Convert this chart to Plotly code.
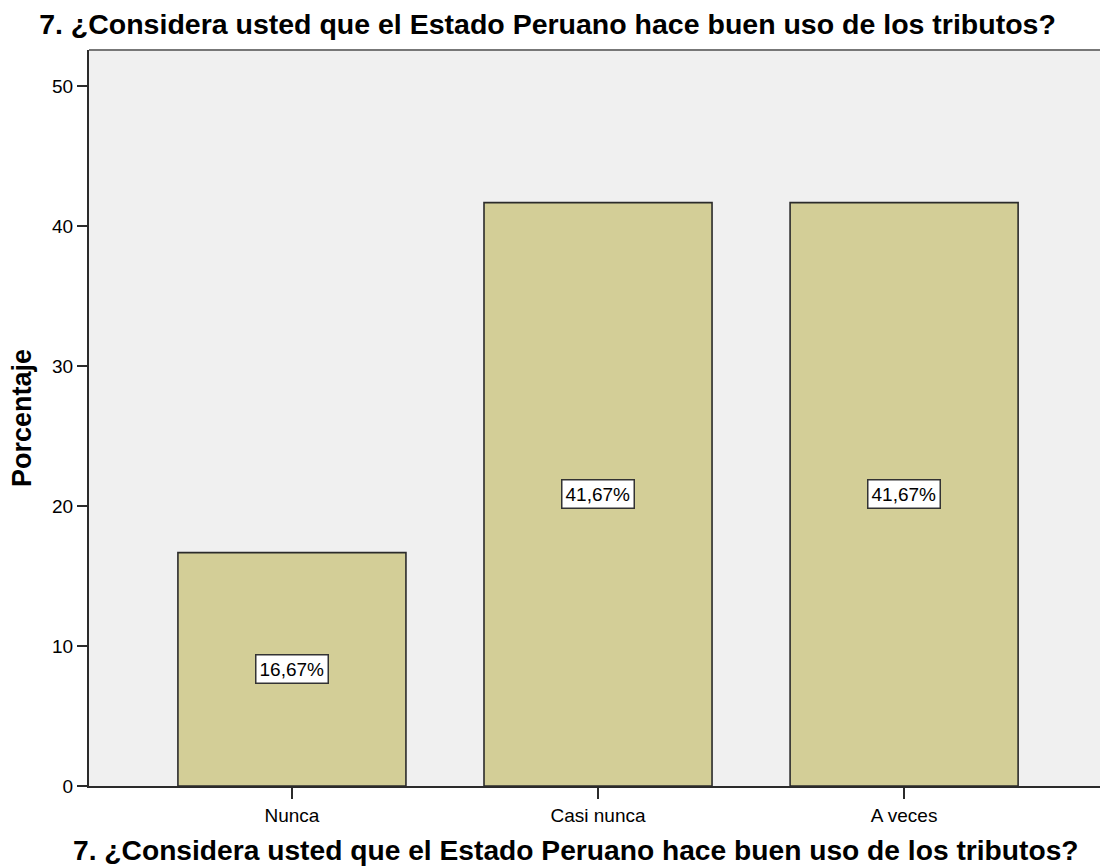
import plotly.graph_objects as go

categories = ["Nunca", "Casi nunca", "A veces"]
percentages = [16.67, 41.67, 41.67]
bar_labels = ["16,67%", "41,67%", "41,67%"]
y_ticks = [0, 10, 20, 30, 40, 50]

title_text = "7. ¿Considera usted que el Estado Peruano hace buen uso de los tributos?"
x = list(range(len(categories)))
FONT = "Arial, Liberation Sans, Helvetica, sans-serif"

fig = go.Figure()
fig.add_trace(go.Bar(
    x=x, y=percentages, width=0.745,
    marker=dict(color="#D3CE97", line=dict(color="#2b2b2b", width=1.6)),
    hoverinfo="skip",
))

for xi, v, lab in zip(x, percentages, bar_labels):
    fig.add_annotation(
        x=xi, y=v / 2, text=lab, showarrow=False,
        font=dict(family=FONT, size=19, color="black"),
        bgcolor="white", bordercolor="#333333", borderwidth=1.5, borderpad=3,
    )

# x-axis title (centred slightly left of plot centre, as in reference)
fig.add_annotation(
    xref="paper", yref="paper", x=0.4817, y=-0.0875,
    xanchor="center", yanchor="middle", showarrow=False,
    text="<b>" + title_text + "</b>",
    font=dict(family=FONT, size=28.2, color="black"),
)
# y-axis title
fig.add_annotation(
    xref="paper", yref="paper", x=-0.0663, y=0.5,
    xanchor="center", yanchor="middle", showarrow=False, textangle=-90,
    text="<b>Porcentaje</b>",
    font=dict(family=FONT, size=27, color="black"),
)

fig.update_layout(
    width=1100, height=868,
    margin=dict(l=89, r=0, t=50, b=82),
    paper_bgcolor="white", plot_bgcolor="#F0F0F0",
    showlegend=False,
    title=dict(text="<b>" + title_text + "</b>", x=0.4977, xanchor="center",
               y=1 - 24 / 868, yanchor="middle",
               font=dict(family=FONT, size=28.5, color="black")),
    font=dict(family=FONT, size=19, color="black"),
)
fig.update_xaxes(
    tickmode="array", tickvals=x, ticktext=categories,
    range=[-0.663, 2.64], showgrid=False, zeroline=False,
    showline=True, linecolor="#2b2b2b", linewidth=2,
    ticks="outside", ticklen=11, tickwidth=2, tickcolor="#2b2b2b",
    tickfont=dict(family=FONT, size=19, color="black"),
)
fig.update_yaxes(
    tickmode="array", tickvals=y_ticks, range=[0, 52.57],
    showgrid=False, zeroline=False,
    showline=True, linecolor="#2b2b2b", linewidth=2,
    ticks="outside", ticklen=10, tickwidth=2, tickcolor="#2b2b2b",
    tickfont=dict(family=FONT, size=19, color="black"),
)
fig.add_shape(type="line", xref="paper", yref="paper", x0=0, x1=1, y0=1, y1=1,
              line=dict(color="#777777", width=2))

fig.write_html("out.html",
               config={"displayModeBar": False},
               post_script="document.body.style.margin='0';document.body.style.overflow='hidden';")
